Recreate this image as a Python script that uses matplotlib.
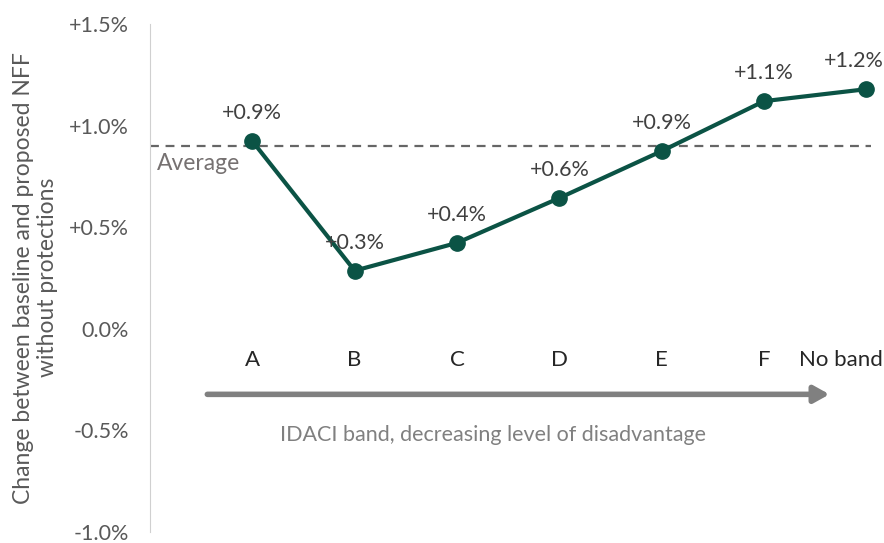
import matplotlib
matplotlib.use("Agg")
import matplotlib.pyplot as plt
from matplotlib.ticker import FuncFormatter

# ============================================================
# 数据
# ============================================================
bands = ["A", "B", "C", "D", "E", "F", "No band"]
change_pct = [0.923, 0.285, 0.422, 0.643, 0.874, 1.12, 1.179]
average_pct = 0.899
y_ticks = [-1.0, -0.5, 0.0, 0.5, 1.0, 1.5]

GREEN = "#0b5345"
GREY_TXT = "#595959"
plt.rcParams["font.family"] = ["Lato", "DejaVu Sans"]

fig = plt.figure(figsize=(8.84, 5.43), dpi=100)
ax = fig.add_axes([0.1697, 0.021, 0.83, 0.9348])

x = list(range(len(bands)))
ax.plot(x, change_pct, color=GREEN, lw=3, marker="o", ms=11, zorder=3)
for xi, v in zip(x, change_pct):
    dx = -9 if xi == x[-1] else 0  # 最后一个标签往左挪，免得出界
    ax.annotate(f"{v:+.1f}%", (xi, v), xytext=(dx, 20), textcoords="offset points",
                ha="center", va="center", fontsize=15.5, color="#404040")

# 平均线
ax.plot([-1.0, 6.05], [average_pct, average_pct], color="#666666", lw=1.6,
        ls=(0, (4, 3)), zorder=2)
ax.text(-0.93, average_pct - 0.035, "Average", ha="left", va="top",
        fontsize=16.5, color="#767171")

# 类别标签 + 箭头
for xi, b in zip(x[:-1], bands[:-1]):
    ax.text(xi, -0.157, b, ha="center", va="center", fontsize=16, color="#262626")
ax.text(6.16, -0.157, bands[-1], ha="right", va="center", fontsize=16, color="#262626")
ax.annotate("", xy=(5.64, -0.324), xytext=(-0.44, -0.324),
            arrowprops=dict(arrowstyle="-|>,head_length=0.9,head_width=0.5",
                            color="#808080", lw=4, shrinkA=0, shrinkB=0))
ax.text(2.35, -0.526, "IDACI band, decreasing level of disadvantage",
        ha="center", va="center", fontsize=15.5, color="#808080")

ax.set_xlim(-1.0, 6.17)
ax.set_ylim(-1.0, 1.5)
ax.set_yticks(y_ticks)
ax.yaxis.set_major_formatter(FuncFormatter(lambda v, p: f"{v:+.1f}%" if v != 0 else "0.0%"))
ax.tick_params(axis="y", length=0, pad=15, labelsize=15.5, labelcolor=GREY_TXT)
ax.set_xticks([])
for s in ["top", "right", "bottom"]:
    ax.spines[s].set_visible(False)
ax.spines["left"].set_color("#d0d0d0")
ax.set_ylabel("Change between baseline and proposed NFF\nwithout protections",
              fontsize=16.5, color=GREY_TXT, labelpad=8, linespacing=1.2)

fig.savefig("out.png", dpi=100)
